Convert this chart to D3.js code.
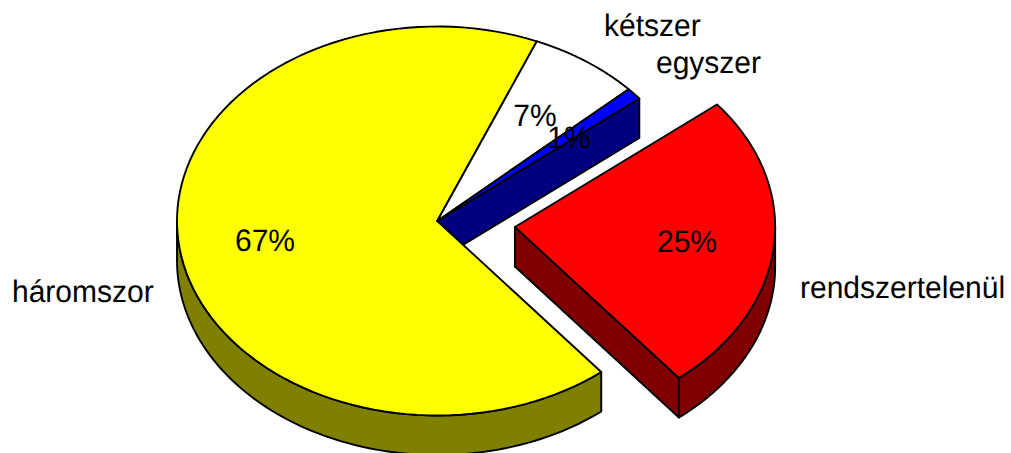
<!DOCTYPE html>
<html><head><meta charset="utf-8">
<script src="https://cdn.jsdelivr.net/npm/d3@7"></script>
<style>html,body{margin:0;padding:0;background:#fff}svg{display:block}text{text-rendering:geometricPrecision}</style>
</head><body><svg id="c" width="1011" height="453"></svg>
<script>
const categories = ["kétszer","egyszer","rendszertelenül","háromszor"];
const values = [6.9,1,25,67.1];
const pctLabels = ["7%","1%","25%","67%"];
const topColors = ["#ffffff","#0000ff","#ff0000","#ffff00"];
const sideColors = ["#808080","#000080","#800000","#808000"];
const explode = [0,0,0.3,0];
const startDeg = 22.5;
const labelPos = [[604,36],[656,73],[800,298],[12,302]];
const pctPos = [[535,125.5],[569,148],[687,252],[265,251]];

const svg = d3.select("#c");
const x = d3.scaleLinear().domain([-1,1]).range([177,697.5]);
const y = d3.scaleLinear().domain([-1,1]).range([26.5,415.5]);
const depth = 39.5;
const start = startDeg*Math.PI/180;
const arcs = d3.pie().sort(null).value(d=>d).startAngle(start).endAngle(start+2*Math.PI)(values);
const line = d3.line().x(d=>d[0]).y(d=>d[1]);

function off(i){const a=arcs[i]; const m=(a.startAngle+a.endAngle)/2;
  return [explode[i]*Math.sin(m), -explode[i]*Math.cos(m)];}
function pt(i,a,r,dz){const o=off(i);
  return [x(r*Math.sin(a)+o[0]), y(-r*Math.cos(a)+o[1])+(dz||0)];}
function arcPts(i,a0,a1,dz){return d3.range(0,101).map(k=>pt(i,a0+(a1-a0)*k/100,1,dz));}
function draw(pts,fill){svg.append("path").attr("d",line(pts)+"Z").attr("fill",fill)
  .attr("stroke","#000").attr("stroke-width",1.9).attr("stroke-linejoin","round");}
function topFace(i){const a=arcs[i];draw([pt(i,0,0)].concat(arcPts(i,a.startAngle,a.endAngle)),topColors[i]);}
function radialWall(i,a){draw([pt(i,0,0),pt(i,a,1),pt(i,a,1,depth),pt(i,0,0,depth)],sideColors[i]);}
function outerWall(i,a0,a1){draw(arcPts(i,a0,a1).concat(arcPts(i,a1,a0,depth)),sideColors[i]);}

const blue=1, red=2, yellow=3, white=0;
radialWall(blue,arcs[blue].endAngle);
outerWall(yellow,arcs[yellow].startAngle,1.5*Math.PI);
topFace(yellow); topFace(white); topFace(blue);
radialWall(red,arcs[red].endAngle);
outerWall(red,0.5*Math.PI,arcs[red].endAngle);
topFace(red);

const font='"Liberation Sans",Arial,sans-serif';
const fs=31, widthFactor=30/31;
svg.selectAll("text.cat").data(categories).join("text").attr("class","cat")
  .attr("x",(d,i)=>labelPos[i][0]).attr("y",(d,i)=>labelPos[i][1])
  .attr("font-family",font).attr("font-size",fs).attr("fill","#000").text(d=>d);
svg.selectAll("text.pct").data(pctLabels).join("text").attr("class","pct")
  .attr("x",(d,i)=>pctPos[i][0]).attr("y",(d,i)=>pctPos[i][1]).attr("text-anchor","middle")
  .attr("font-family",font).attr("font-size",fs).attr("fill","#000").text(d=>d);
svg.selectAll("text").each(function(){
  d3.select(this).attr("lengthAdjust","spacingAndGlyphs").attr("textLength",this.getComputedTextLength()*widthFactor);
});
</script></body></html>
